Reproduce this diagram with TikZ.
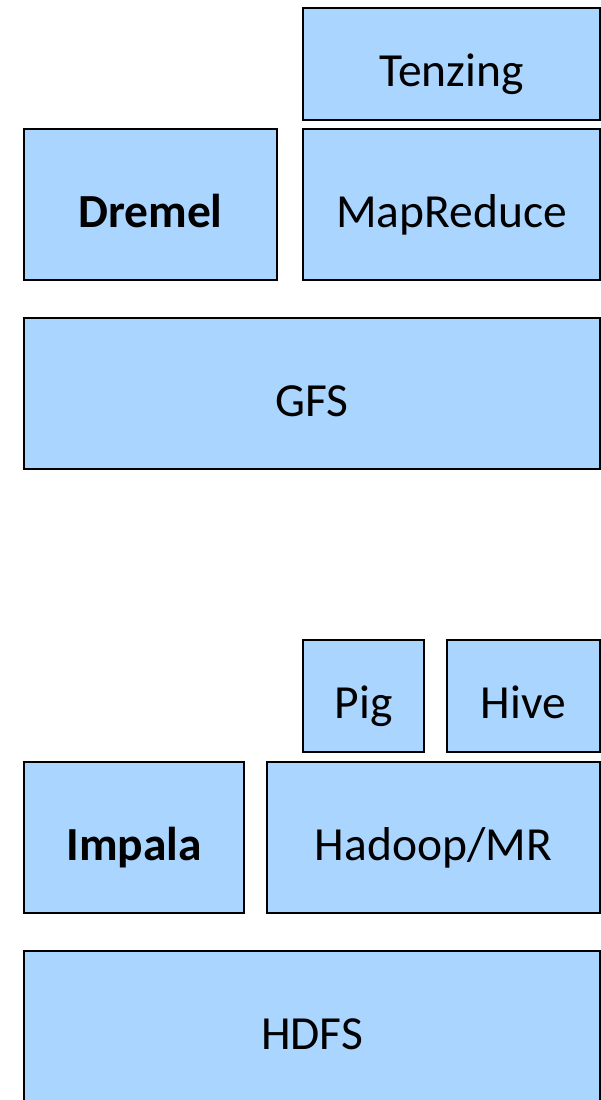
\documentclass[tikz,border=0pt]{standalone}
\usepackage{fontspec}
\setmainfont{Carlito}
\usetikzlibrary{positioning}
\definecolor{layercolor}{RGB}{169,213,255}

\begin{document}
\begin{tikzpicture}[
    x=1pt, y=1pt,
    layer/.style={draw, line width=1.2pt, fill=layercolor, outer sep=0pt,
                  inner sep=0pt, minimum height=151pt,
                  text height=45pt, text depth=0pt,
                  font=\fontsize{47.5}{50}\selectfont, align=center},
    small/.style={layer, minimum height=112pt}
  ]
    \clip (0,0) rectangle (601,-1100);

    %% Google stack
    \node[layer, minimum width=253pt, anchor=north west] (dremel) at (24,-129)
      {\textbf{Dremel}};
    \node[layer, minimum width=297pt, right=26pt of dremel] (mapreduce)
      {MapReduce};
    \node[small, minimum width=297pt, above=9pt of mapreduce] (tenzing)
      {Tenzing};
    \node[layer, minimum width=576pt, below right=38pt and 0pt of dremel.south west]
      (gfs) {GFS};

    %% Hadoop stack
    \node[layer, minimum width=220pt, anchor=north west] (impala) at (24,-762)
      {\textbf{Impala}};
    \node[layer, minimum width=333pt, right=23pt of impala] (hadoop)
      {Hadoop/MR};
    \node[small, minimum width=121pt, above right=10pt and 36pt of hadoop.north west]
      (pig) {Pig};
    \node[small, minimum width=153pt, right=23pt of pig] (hive) {Hive};
    \node[layer, minimum width=576pt, below right=38pt and 0pt of impala.south west]
      (hdfs) {HDFS};
  \end{tikzpicture}
\end{document}
